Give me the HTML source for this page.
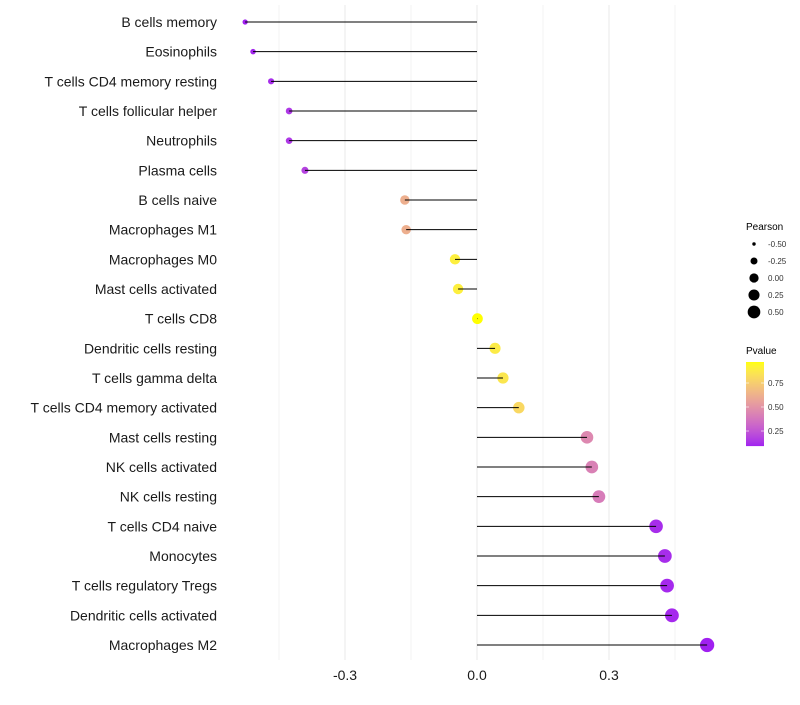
<!DOCTYPE html>
<html><head><meta charset="utf-8"><style>
body{margin:0;background:#fff;font-family:"Liberation Sans",sans-serif}
svg text{font-family:"Liberation Sans",sans-serif}
</style></head><body>
<svg id="chart" width="800" height="700" xmlns="http://www.w3.org/2000/svg">
<g id="grid"></g>
<g id="marks"></g>
<g id="ylabels"></g>
<g id="xlabels"></g>
<g id="legend-size"></g>
<g id="legend-color"></g>
</svg>
<script>
const categories=["B cells memory","Eosinophils","T cells CD4 memory resting","T cells follicular helper","Neutrophils","Plasma cells","B cells naive","Macrophages M1","Macrophages M0","Mast cells activated","T cells CD8","Dendritic cells resting","T cells gamma delta","T cells CD4 memory activated","Mast cells resting","NK cells activated","NK cells resting","T cells CD4 naive","Monocytes","T cells regulatory  Tregs ","Dendritic cells activated","Macrophages M2"];
const pearson=[-0.527,-0.509,-0.468,-0.427,-0.427,-0.391,-0.164,-0.161,-0.05,-0.043,0.001,0.041,0.059,0.095,0.25,0.261,0.277,0.407,0.427,0.432,0.443,0.523];
const pvalue=[0.09,0.1,0.12,0.15,0.15,0.18,0.62,0.62,0.9,0.9,0.97,0.88,0.86,0.8,0.45,0.42,0.4,0.12,0.12,0.11,0.11,0.09];
const xTicks=[-0.3,0,0.3];
const xTickLabels=["-0.3","0.0","0.3"];
const sizeLegendVals=[-0.5,-0.25,0,0.25,0.5];
const sizeLegendLabels=["-0.50","-0.25","0.00","0.25","0.50"];
const colorLegendVals=[0.25,0.5,0.75];
const colorLegendLabels=["0.25","0.50","0.75"];

const NS="http://www.w3.org/2000/svg";
const x0=477,pxU=440;
const xs=v=>x0+v*pxU;
const ys=i=>22+i*(645-22)/(categories.length-1);
const rs=v=>Math.sqrt(Math.max(4,29+42*v));
const rsLeg=v=>Math.sqrt(Math.max(0.5,21.5+37*v));
function mk(t,a,p){const e=document.createElementNS(NS,t);for(const k in a)e.setAttribute(k,a[k]);p.appendChild(e);return e;}
function toLin(c){c/=255;return c<=0.04045?c/12.92:Math.pow((c+0.055)/1.055,2.4);}
function toS(c){c=c<=0.0031308?12.92*c:1.055*Math.pow(c,1/2.4)-0.055;return Math.round(Math.max(0,Math.min(1,c))*255);}
function rgb2lab(r,g,b){r=toLin(r);g=toLin(g);b=toLin(b);let X=(r*0.4124+g*0.3576+b*0.1805)/0.95047,Y=r*0.2126+g*0.7152+b*0.0722,Z=(r*0.0193+g*0.1192+b*0.9505)/1.08883;const f=t=>t>0.008856?Math.cbrt(t):7.787*t+16/116;X=f(X);Y=f(Y);Z=f(Z);return[116*Y-16,500*(X-Y),200*(Y-Z)];}
function lab2rgb(L,a,b){let Y=(L+16)/116,X=a/500+Y,Z=Y-b/200;const fi=t=>t*t*t>0.008856?t*t*t:(t-16/116)/7.787;X=fi(X)*0.95047;Y=fi(Y);Z=fi(Z)*1.08883;const r=X*3.2406+Y*-1.5372+Z*-0.4986,g=X*-0.9689+Y*1.8758+Z*0.0415,bb=X*0.0557+Y*-0.204+Z*1.057;return`rgb(${toS(r)},${toS(g)},${toS(bb)})`;}
const labLo=rgb2lab(160,32,240),labHi=rgb2lab(255,255,0);
const pmin=0.09,pmax=0.97;
function col(p){let t=(p-pmin)/(pmax-pmin);t=Math.max(0,Math.min(1,t));return lab2rgb(labLo[0]+(labHi[0]-labLo[0])*t,labLo[1]+(labHi[1]-labLo[1])*t,labLo[2]+(labHi[2]-labLo[2])*t);}

const grid=document.getElementById('grid');
for(let k=-3;k<=3;k++){const v=k*0.15;const l=mk('line',{x1:xs(v),x2:xs(v),y1:5,y2:660,stroke:'#ebebeb','stroke-width':Math.abs(k)%2===1?0.6:1.1},grid);

}
const marks=document.getElementById('marks');
categories.forEach((c,i)=>{
 const y=ys(i);
 const slug=c.trim().toLowerCase().replace(/\s+/g,'-');
 const pt=mk('circle',{cx:xs(pearson[i]),cy:y,r:rs(pearson[i]),fill:col(pvalue[i])},marks);
 
 
 const sg=mk('line',{x1:xs(pearson[i]),x2:x0,y1:y,y2:y,stroke:'#000','stroke-width':1},marks);
 
 
 const t=mk('text',{x:217,y:y+5,'text-anchor':'end','font-size':14,fill:'#1a1a1a'},document.getElementById('ylabels'));
 t.textContent=c;
 
 
});
xTicks.forEach((v,i)=>{const t=mk('text',{x:xs(v),y:680,'text-anchor':'middle','font-size':14,fill:'#1a1a1a'},document.getElementById('xlabels'));t.textContent=xTickLabels[i];

});
const ls=document.getElementById('legend-size');
const lt=mk('text',{x:746,y:230,'font-size':10,fill:'#000'},ls);lt.textContent='Pearson';
sizeLegendVals.forEach((v,i)=>{const y=244+i*17;mk('circle',{cx:754,cy:y,r:rsLeg(v),fill:'#000'},ls);const t=mk('text',{x:768,y:y+3,'font-size':8,fill:'#333'},ls);t.textContent=sizeLegendLabels[i];

});
const lc=document.getElementById('legend-color');
const ct=mk('text',{x:746,y:354,'font-size':10,fill:'#000'},lc);ct.textContent='Pvalue';
const cbTop=362,cbBot=446,pPx=96;
for(let y=cbTop;y<cbBot;y++){const p=0.25+(431-(y+0.5))/pPx;mk('rect',{x:746,y:y,width:18,height:1.1,fill:col(p)},lc);}
colorLegendVals.forEach((v,i)=>{const y=431-(v-0.25)*pPx;mk('line',{x1:746,x2:749,y1:y,y2:y,stroke:'#fff','stroke-width':0.6},lc);mk('line',{x1:761,x2:764,y1:y,y2:y,stroke:'#fff','stroke-width':0.6},lc);const t=mk('text',{x:768,y:y+3,'font-size':8,fill:'#333'},lc);t.textContent=colorLegendLabels[i];

});
</script>
</body></html>
